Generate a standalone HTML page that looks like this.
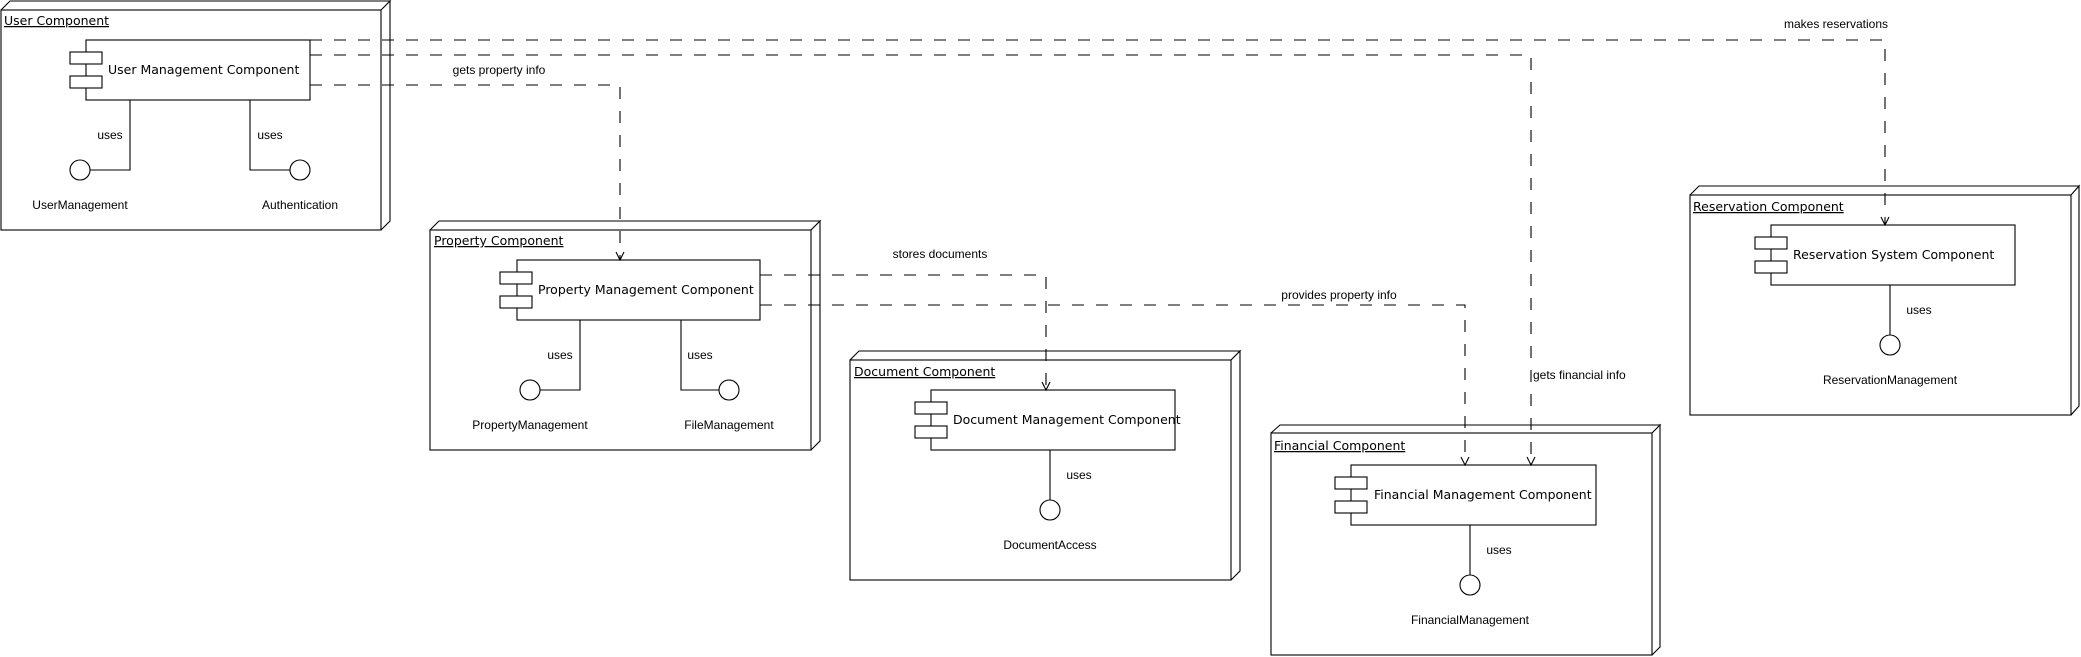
<!DOCTYPE html>
<html><head><meta charset="utf-8"><style>
html,body{margin:0;padding:0;background:#fff;width:2081px;height:657px;overflow:hidden}
svg{display:block}
.t{font-family:"Liberation Sans",sans-serif;font-size:12px;fill:#000}
.c{font-family:"DejaVu Sans","Liberation Sans",sans-serif;font-size:12.5px;fill:#000}
.h{font-family:"DejaVu Sans","Liberation Sans",sans-serif;font-size:12.5px;fill:#000;text-decoration:underline}
</style></head><body>
<svg width="2081" height="657" viewBox="0 0 2081 657" xmlns="http://www.w3.org/2000/svg">
<g fill="#fff" stroke="#000" stroke-width="1.1">
<rect x="1" y="10" width="380" height="220"/>
<path d="M1 10 L10 1 L390 1 L381 10 M381 10 L390 1 L390 221 L381 230" fill="none"/>
<rect x="430" y="230" width="381" height="220"/>
<path d="M430 230 L439 221 L820 221 L811 230 M811 230 L820 221 L820 441 L811 450" fill="none"/>
<rect x="850" y="360" width="381" height="220"/>
<path d="M850 360 L859 351 L1240 351 L1231 360 M1231 360 L1240 351 L1240 571 L1231 580" fill="none"/>
<rect x="1271" y="433" width="381" height="222"/>
<path d="M1271 433 L1280 425 L1660 425 L1652 433 M1652 433 L1660 425 L1660 647 L1652 655" fill="none"/>
<rect x="1690" y="195" width="381" height="220"/>
<path d="M1690 195 L1699 186 L2079 186 L2071 195 M2071 195 L2079 186 L2079 406 L2071 415" fill="none"/>

<rect x="86" y="40" width="224" height="60"/><rect x="70" y="52" width="32" height="12"/><rect x="70" y="76" width="32" height="12"/>
<rect x="517" y="260" width="243" height="60"/><rect x="500" y="272" width="32" height="12"/><rect x="500" y="296" width="32" height="12"/>
<rect x="931" y="390" width="244" height="60"/><rect x="915" y="402" width="32" height="12"/><rect x="915" y="426" width="32" height="12"/>
<rect x="1351" y="465" width="245" height="60"/><rect x="1335" y="477" width="32" height="12"/><rect x="1335" y="501" width="32" height="12"/>
<rect x="1771" y="225" width="244" height="60"/><rect x="1755" y="237" width="32" height="12"/><rect x="1755" y="261" width="32" height="12"/>

<path d="M130 100 V170 H90 M250 100 V170 H290" fill="none"/>
<circle cx="80" cy="170" r="10"/><circle cx="300" cy="170" r="10"/>
<path d="M580 320 V390 H540 M681 320 V390 H719" fill="none"/>
<circle cx="530" cy="390" r="10"/><circle cx="729" cy="390" r="10"/>
<path d="M1050 450 V500" fill="none"/><circle cx="1050" cy="510" r="10"/>
<path d="M1470 525 V575" fill="none"/><circle cx="1470" cy="585" r="10"/>
<path d="M1890 285 V335" fill="none"/><circle cx="1890" cy="345" r="10"/>
</g>

<g fill="none" stroke="#000" stroke-width="1.1" stroke-dasharray="12,12">
<path d="M310 40 H1885 V224"/>
<path d="M310 55 H1531 V464"/>
<path d="M310 85 H620 V259"/>
<path d="M760 275 H1046 V389"/>
<path d="M760 305 H1465 V464"/>
</g>
<g fill="none" stroke="#000" stroke-width="1.1">
<path d="M1881 217 L1885 225 L1889 217"/>
<path d="M1527 457 L1531 465 L1535 457"/>
<path d="M616 252 L620 260 L624 252"/>
<path d="M1042 382 L1046 390 L1050 382"/>
<path d="M1461 457 L1465 465 L1469 457"/>
</g>

<text class="h" x="4" y="25">User Component</text>
<text class="h" x="434" y="245">Property Component</text>
<text class="h" x="854" y="376">Document Component</text>
<text class="h" x="1274" y="450">Financial Component</text>
<text class="h" x="1693" y="211">Reservation Component</text>

<text class="c" x="108" y="74">User Management Component</text>
<text class="c" x="538" y="294">Property Management Component</text>
<text class="c" x="953" y="424">Document Management Component</text>
<text class="c" x="1374" y="499">Financial Management Component</text>
<text class="c" x="1793" y="259">Reservation System Component</text>

<g class="t" text-anchor="middle">
<text x="110" y="139">uses</text><text x="270" y="139">uses</text>
<text x="80" y="209">UserManagement</text><text x="300" y="209">Authentication</text>
<text x="560" y="359">uses</text><text x="700" y="359">uses</text>
<text x="530" y="429">PropertyManagement</text><text x="729" y="429">FileManagement</text>
<text x="1079" y="479">uses</text><text x="1050" y="549">DocumentAccess</text>
<text x="1499" y="554">uses</text><text x="1470" y="624">FinancialManagement</text>
<text x="1919" y="314">uses</text><text x="1890" y="384">ReservationManagement</text>
<text x="499" y="74">gets property info</text>
<text x="940" y="258">stores documents</text>
<text x="1339" y="299">provides property info</text>
<text x="1836" y="28">makes reservations</text>
</g>
<text class="t" x="1533" y="379">gets financial info</text>
</svg>
</body></html>
